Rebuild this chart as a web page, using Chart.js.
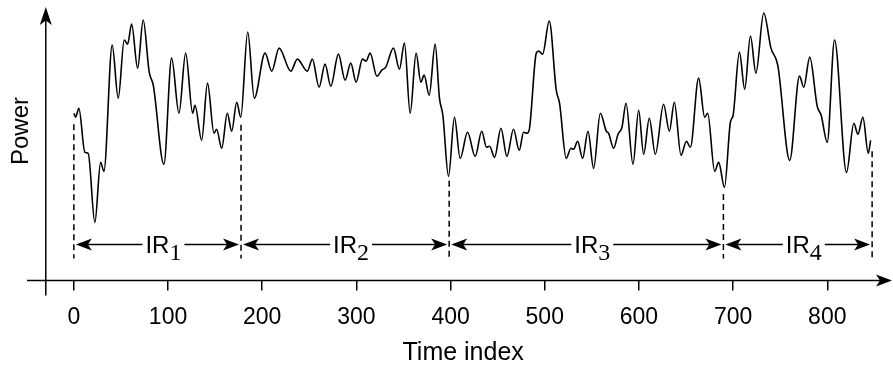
<!DOCTYPE html>
<html>
<head>
<meta charset="utf-8">
<script src="https://cdn.jsdelivr.net/npm/chart.js@4"></script>
<style>
  html, body { margin: 0; padding: 0; background: #fff; }
  #wrap { width: 893px; height: 366px; position: relative; }
</style>
</head>
<body>
<div id="wrap"><canvas id="powerChart"></canvas></div>
<script>
// signal (time index, power in arbitrary units)
const timeIdx = [0,1.8,5.3,11.7,15.2,22.3,28.4,31.9,40.7,47.1,53.5,57.1,61.3,67.7,73.6,80.0,84.3,95.6,103.8,111.6,
  118.7,126.1,128.6,135.7,141.9,148.8,151.6,157.0,162.9,167.6,172.9,177.2,184.6,191.6,203.0,210.1,217.9,230.3,237.3,247.9,
  253.2,260.4,266.7,272.8,280.9,288.0,294.0,299.7,306.4,310.3,314.6,321.7,327.0,331.2,339.3,345.7,351.0,357.1,363.4,368.4,
  371.9,377.3,383.6,388.2,391.8,397.8,404.1,410.2,418.0,426.1,433.1,438.2,441.4,446.7,453.5,459.8,466.8,472.9,477.5,481.1,
  483.8,491.0,493.4,497.7,504.8,512.2,515.7,522.8,527.8,530.6,534.9,540.2,545.9,551.9,559.0,565.4,567.8,573.1,577.8,582.0,
  586.3,593.7,599.7,605.0,611.0,617.4,626.2,632.3,637.6,644.7,650.4,654.6,663.4,669.8,673.0,680.4,684.7,690.8,697.1,700.0,
  706.7,712.3,718.4,724.2,732.5,740.2,747.4,760.1,770.5,775.0,781.4,789.3,793.5,799.9,807.7,820.4,828.2,832.5,837.8,843.5,846.0];
const power = [16.7,16.3,17.2,12.8,12.7,5.8,11.8,10.9,23.5,18.2,24.0,23.6,25.6,21.2,26.0,20.8,19.5,11.6,22.2,16.7,
  22.7,16.7,17.5,14.0,19.7,14.7,15.1,13.2,16.7,14.9,17.8,16.3,24.8,18.2,22.7,20.9,23.2,20.9,22.1,20.9,
  22.1,19.3,21.6,19.4,22.6,20.0,21.7,19.8,22.1,21.9,22.7,20.4,21.0,21.3,23.2,21.1,23.7,16.7,22.7,19.8,
  20.5,18.5,23.6,18.2,16.5,10.4,16.3,12.2,14.8,12.4,14.9,13.3,13.4,12.3,15.2,12.4,15.1,13.0,14.8,14.7,
  15.2,22.7,22.9,22.6,25.9,19.0,17.7,12.2,13.2,13.1,13.9,12.2,14.9,11.2,16.7,14.9,14.7,13.2,14.6,15.3,
  17.7,11.6,17.0,12.6,16.2,12.6,17.6,14.9,17.8,12.5,13.9,13.3,20.2,16.3,16.7,10.9,11.8,9.3,15.8,16.5,
  22.8,19.1,24.4,20.7,26.7,23.2,21.5,12.0,20.4,19.3,22.3,17.4,16.5,13.8,24.0,10.8,15.7,14.6,16.3,12.7,14.0];

const xTicks = [0, 100, 200, 300, 400, 500, 600, 700, 800];
// interval boundaries and their names
const boundaries = [0, 177.5, 398.5, 689.7, 847.6];
const intervalSubs = ['1', '2', '3', '4'];

Chart.defaults.font.family = '"Liberation Sans", Arial, sans-serif';
Chart.defaults.color = '#000';

// value of the signal at t, only used to start the dashed markers under the curve
function signalAt(t) {
  for (let i = 1; i < timeIdx.length; i++) {
    if (t <= timeIdx[i]) {
      const f = (t - timeIdx[i - 1]) / (timeIdx[i] - timeIdx[i - 1]);
      return power[i - 1] + f * (power[i] - power[i - 1]);
    }
  }
  return power[power.length - 1];
}

function arrowHead(ctx, x, y, angle, len, half) {
  ctx.save();
  ctx.translate(x, y);
  ctx.rotate(angle);
  ctx.beginPath();
  ctx.moveTo(0, 0);
  ctx.lineTo(-len, -half);
  ctx.lineTo(-len * 0.75, 0);
  ctx.lineTo(-len, half);
  ctx.closePath();
  ctx.fill();
  ctx.restore();
}

function seg(ctx, x1, y1, x2, y2) {
  ctx.beginPath();
  ctx.moveTo(x1, y1);
  ctx.lineTo(x2, y2);
  ctx.stroke();
}

const decorations = {
  id: 'decorations',
  afterDraw(chart) {
    const ctx = chart.ctx;
    const a = chart.chartArea;
    const xs = chart.scales.x, ys = chart.scales.y;
    ctx.save();
    ctx.strokeStyle = '#000';
    ctx.fillStyle = '#000';
    ctx.lineWidth = 1.5;

    // axes with arrows
    seg(ctx, 27, a.bottom, 882, a.bottom);
    arrowHead(ctx, 892, a.bottom, 0, 16, 6);
    seg(ctx, a.left, a.bottom + 15, a.left, a.top + 10);
    arrowHead(ctx, a.left, a.top, -Math.PI / 2, 18, 6);

    // dashed interval markers
    const arrowY = a.bottom - 36;
    ctx.setLineDash([6, 4]);
    boundaries.forEach(b => {
      const px = xs.getPixelForValue(b);
      const top = ys.getPixelForValue(signalAt(b)) + 11;
      seg(ctx, px, top, px, a.bottom - 22);
    });
    ctx.setLineDash([]);

    // IR arrows and labels
    for (let i = 0; i < intervalSubs.length; i++) {
      const x1 = xs.getPixelForValue(boundaries[i]) + 2;
      const x2 = xs.getPixelForValue(boundaries[i + 1]) - 2;
      const mid = (x1 + x2) / 2;
      ctx.font = '24px "Liberation Sans", Arial, sans-serif';
      const w = ctx.measureText('IR').width;
      const tx = mid - w / 2;
      ctx.textAlign = 'left';
      ctx.textBaseline = 'alphabetic';
      ctx.fillText('IR', tx, arrowY + 8);
      ctx.font = '24px "Liberation Serif", "Times New Roman", serif';
      const sw = ctx.measureText(intervalSubs[i]).width;
      ctx.fillText(intervalSubs[i], tx + w, arrowY + 15);
      seg(ctx, x1 + 10, arrowY, tx - 3, arrowY);
      seg(ctx, tx + w + sw + 3, arrowY, x2 - 10, arrowY);
      arrowHead(ctx, x1, arrowY, Math.PI, 16, 6);
      arrowHead(ctx, x2, arrowY, 0, 16, 6);
    }

    // y axis title
    ctx.save();
    ctx.translate(28, 131);
    ctx.rotate(-Math.PI / 2);
    ctx.font = '24px "Liberation Sans", Arial, sans-serif';
    ctx.textAlign = 'center';
    ctx.textBaseline = 'alphabetic';
    ctx.fillText('Power', 0, 0);
    ctx.restore();

    ctx.restore();
  }
};

const ctx = document.getElementById('powerChart').getContext('2d');

const chart = new Chart(ctx, {
  type: 'line',
  data: {
    datasets: [{
      label: 'Power',
      data: timeIdx.map((t, i) => ({ x: t, y: power[i] })),
      borderColor: '#000',
      borderWidth: 1.6,
      pointRadius: 0,
      fill: false,
      cubicInterpolationMode: 'monotone'
    }]
  },
  options: {
    responsive: true,
    maintainAspectRatio: false,
    animation: false,
    layout: { padding: { left: 45.8, right: 12.5, top: 7, bottom: 0 } },
    plugins: {
      legend: { display: false },
      tooltip: { enabled: false }
    },
    scales: {
      x: {
        type: 'linear',
        min: -29.8,
        max: 856.5,
        afterBuildTicks: scale => { scale.ticks = xTicks.map(v => ({ value: v })); },
        border: { display: false },
        grid: { drawOnChartArea: false, drawTicks: true, tickLength: 10, color: '#000', lineWidth: 1.5 },
        ticks: { font: { size: 23 }, padding: 13.2, maxRotation: 0, autoSkip: false },
        title: { display: true, text: 'Time index', font: { size: 25 }, padding: { top: -6.6, bottom: -2 } }
      },
      y: {
        display: false,
        min: 0,
        max: 27.3
      }
    }
  },
  plugins: [decorations]
});
</script>
</body>
</html>
